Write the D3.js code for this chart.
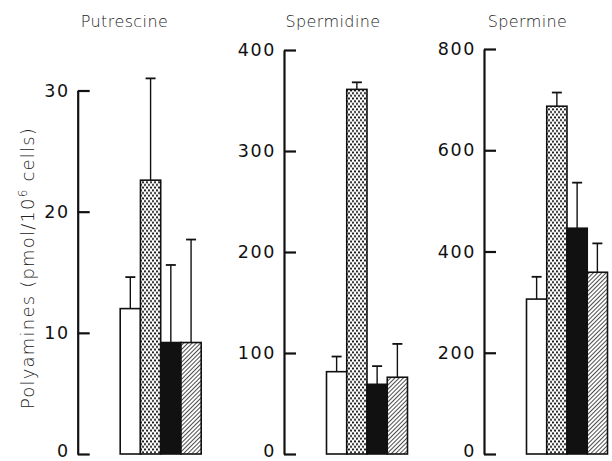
<!DOCTYPE html>
<html>
<head>
<meta charset="utf-8">
<script src="https://cdn.jsdelivr.net/npm/d3@7"></script>
<style>
  body { margin: 0; background: #fff; }
  svg { display: block; }
  .title { font-family: "DejaVu Sans", sans-serif; font-weight: 200; font-size: 16px; letter-spacing: 0.4px; fill: #222; }
  .axis text { font-family: "DejaVu Sans", sans-serif; font-size: 17.5px; letter-spacing: 1.6px; fill: #111; }
  .axis path, .axis line { stroke: #111; stroke-width: 2.2px; }
</style>
</head>
<body>
<div id="chart"></div>
<script>
var width = 612;
var height = 461;

// data
var panels = ["Putrescine", "Spermidine", "Spermine"];
var groups = ["g1", "g2", "g3", "g4"];
var putrescine = [12.0, 22.6, 9.2, 9.2];
var putrescineErr = [2.6, 8.4, 6.4, 8.5];
var spermidine = [81.5, 361, 69, 76];
var spermidineErr = [15, 7, 18, 33];
var spermine = [306, 687, 446, 359];
var spermineErr = [44, 27, 90, 57];
var ticks1 = [0, 10, 20, 30];
var ticks2 = [0, 100, 200, 300, 400];
var ticks3 = [0, 200, 400, 600, 800];

var values = [putrescine, spermidine, spermine];
var errors = [putrescineErr, spermidineErr, spermineErr];
var tickSets = [ticks1, ticks2, ticks3];

// layout
var axisX = [77.7, 284, 484];
var topY = [90.5, 50, 49];
var titleX = [124.5, 333, 527.5];
var baseY = 454;
var barOffset = 42.5;
var barSpan = 81;

var svg = d3.select("#chart")
    .append("svg")
    .attr("width", width)
    .attr("height", height);

// fill patterns
var defs = svg.append("defs");

var dots = defs.append("pattern")
    .attr("id", "dots")
    .attr("patternUnits", "userSpaceOnUse")
    .attr("width", 4)
    .attr("height", 5.4);
dots.append("rect").attr("width", 4).attr("height", 5.4).attr("fill", "#fff");
dots.append("circle").attr("cx", 1).attr("cy", 1.35).attr("r", 1.05).attr("fill", "#111");
dots.append("circle").attr("cx", 3).attr("cy", 4.05).attr("r", 1.05).attr("fill", "#111");

var hatch = defs.append("pattern")
    .attr("id", "hatch")
    .attr("patternUnits", "userSpaceOnUse")
    .attr("width", 3)
    .attr("height", 3)
    .attr("patternTransform", "rotate(45)");
hatch.append("rect").attr("width", 3).attr("height", 3).attr("fill", "#fff");
hatch.append("line")
    .attr("x1", 0).attr("y1", 0).attr("x2", 0).attr("y2", 3)
    .attr("stroke", "#111").attr("stroke-width", 1.5);

var fills = ["#fff", "url(#dots)", "#111", "url(#hatch)"];

panels.forEach(function(name, p) {
    var y = d3.scaleLinear()
        .domain([0, d3.max(tickSets[p])])
        .range([baseY, topY[p]]);

    var x = d3.scaleBand()
        .domain(groups)
        .range([axisX[p] + barOffset, axisX[p] + barOffset + barSpan])
        .padding(0);

    var axis = d3.axisLeft(y)
        .tickValues(tickSets[p])
        .tickSizeInner(-12)
        .tickSizeOuter(0)
        .tickPadding(8)
        .tickFormat(d3.format("d"));

    svg.append("g")
        .attr("class", "axis")
        .attr("transform", "translate(" + axisX[p] + ",0)")
        .call(axis)
        .call(function(g) {
            g.selectAll("text").attr("font-size", null).attr("font-family", null);
            // keep the bottom "0" inside the frame
            g.selectAll("text").filter(function(d) { return d === 0; }).attr("dy", "0.15em");
        });

    svg.append("text")
        .attr("class", "title")
        .attr("x", titleX[p])
        .attr("y", 27)
        .attr("text-anchor", "middle")
        .text(name);

    var rows = groups.map(function(g, i) {
        return { g: g, i: i, v: values[p][i], e: errors[p][i] };
    });

    // error bars (drawn first, bars overlap the lower end)
    var err = svg.append("g").selectAll("g")
        .data(rows)
        .enter()
        .append("g");

    err.append("line")
        .attr("x1", function(d) { return x(d.g) + x.bandwidth() / 2; })
        .attr("x2", function(d) { return x(d.g) + x.bandwidth() / 2; })
        .attr("y1", function(d) { return y(d.v); })
        .attr("y2", function(d) { return y(d.v + d.e); })
        .attr("stroke", "#111")
        .attr("stroke-width", 1.4);

    err.append("line")
        .attr("x1", function(d) { return x(d.g) + x.bandwidth() / 2 - 5; })
        .attr("x2", function(d) { return x(d.g) + x.bandwidth() / 2 + 5; })
        .attr("y1", function(d) { return y(d.v + d.e); })
        .attr("y2", function(d) { return y(d.v + d.e); })
        .attr("stroke", "#111")
        .attr("stroke-width", 1.8);

    svg.append("g").selectAll("rect")
        .data(rows)
        .enter()
        .append("rect")
        .attr("x", function(d) { return x(d.g); })
        .attr("y", function(d) { return y(d.v); })
        .attr("width", x.bandwidth())
        .attr("height", function(d) { return baseY - y(d.v); })
        .attr("fill", function(d) { return fills[d.i]; })
        .attr("stroke", "#111")
        .attr("stroke-width", 1.6);
});

// y axis label
var ylab = svg.append("text")
    .attr("class", "title")
    .attr("transform", "translate(34,268) rotate(-90)")
    .attr("text-anchor", "middle")
    .style("font-size", "18px")
    .style("letter-spacing", "1.2px");
ylab.append("tspan").text("Polyamines (pmol/10");
ylab.append("tspan").attr("dy", -7).attr("font-size", 12).text("6");
ylab.append("tspan").attr("dy", 7).text(" cells)");
</script>
</body>
</html>
